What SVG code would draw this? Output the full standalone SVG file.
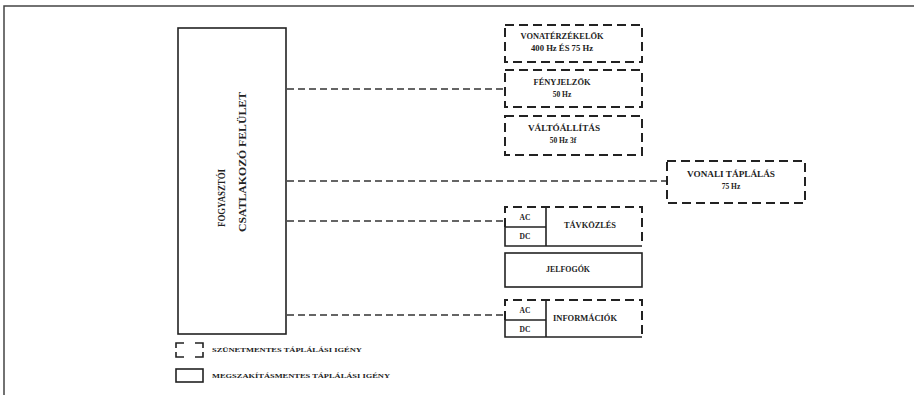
<svg xmlns="http://www.w3.org/2000/svg" width="914" height="401" viewBox="0 0 914 401">
<style>
text{font-family:"Liberation Serif","Times New Roman",serif;font-weight:bold;fill:#222;}
.t{font-size:7.5px;text-anchor:middle;}
.l{font-size:7px;}
.solid{fill:none;stroke:#222;stroke-width:1.6;}
.dash{fill:none;stroke:#222;stroke-width:2;stroke-dasharray:9 5;}
.conn{fill:none;stroke:#333;stroke-width:1.3;stroke-dasharray:7 4;}
.frame{fill:none;stroke:#444;stroke-width:1.5;}
</style>
<rect width="914" height="401" fill="#fff"/>
<path class="frame" d="M4,395 V6 H914"/>
<g id="connectors">
<path class="conn" d="M287,89 H505"/>
<path class="conn" d="M287,181 H667"/>
<path class="conn" d="M287,221 H505"/>
<path class="conn" d="M287,315 H505"/>
</g>
<g id="main">
<rect class="solid" x="178" y="28" width="108" height="306"/>
<text transform="translate(225,198) rotate(-90)" font-size="10" text-anchor="middle" textLength="58" lengthAdjust="spacingAndGlyphs">FOGYASZTÓI</text>
<text transform="translate(246,162) rotate(-90)" font-size="10" text-anchor="middle" textLength="140" lengthAdjust="spacingAndGlyphs">CSATLAKOZÓ FELÜLET</text>
</g>
<g id="vonaterzekelok">
<rect class="dash" x="505" y="25" width="137" height="37"/>
<text class="t" x="562" y="39" textLength="83" lengthAdjust="spacingAndGlyphs">VONATÉRZÉKELŐK</text>
<text class="t" x="562" y="51" textLength="62" lengthAdjust="spacingAndGlyphs">400 Hz ÉS 75 Hz</text>
</g>
<g id="fenyjelzok">
<rect class="dash" x="505" y="70" width="137" height="37"/>
<text class="t" x="562" y="85" textLength="57" lengthAdjust="spacingAndGlyphs">FÉNYJELZŐK</text>
<text class="t" x="562" y="97">50 Hz</text>
</g>
<g id="valtoallitas">
<rect class="dash" x="505" y="116" width="137" height="39"/>
<text class="t" x="564" y="131" textLength="72" lengthAdjust="spacingAndGlyphs">VÁLTÓÁLLÍTÁS</text>
<text class="t" x="563" y="143">50 Hz 3f</text>
</g>
<g id="vonali">
<rect class="dash" x="667" y="161" width="138" height="42"/>
<text class="t" x="731" y="177" textLength="88" lengthAdjust="spacingAndGlyphs">VONALI TÁPLÁLÁS</text>
<text class="t" x="731" y="189">75 Hz</text>
</g>
<g id="tavkozles">
<path class="dash" d="M505,227 V207 H642 V246"/>
<path class="solid" d="M505,227 V246 H642 M505,227 H546 M546,207 V246"/>
<text class="t" x="525" y="220">AC</text>
<text class="t" x="525" y="239">DC</text>
<text class="t" x="590" y="228" textLength="52" lengthAdjust="spacingAndGlyphs">TÁVKÖZLÉS</text>
</g>
<g id="jelfogok">
<rect class="solid" x="505" y="253" width="137" height="34"/>
<text class="t" x="568" y="272" textLength="44" lengthAdjust="spacingAndGlyphs">JELFOGÓK</text>
</g>
<g id="informaciok">
<path class="dash" d="M505,320 V300 H642 V337"/>
<path class="solid" d="M505,320 V337 H642 M505,320 H546 M546,300 V337"/>
<text class="t" x="525" y="313">AC</text>
<text class="t" x="525" y="332">DC</text>
<text class="t" x="585" y="321" textLength="64" lengthAdjust="spacingAndGlyphs">INFORMÁCIÓK</text>
</g>
<g id="legend">
<path class="solid" stroke-width="2" d="M176,348 V343 H184 M195,343 H203 V348 M203,352 V357 H195 M184,357 H176 V352"/>
<text class="l" x="212" y="352" textLength="150" lengthAdjust="spacingAndGlyphs">SZÜNETMENTES TÁPLÁLÁSI IGÉNY</text>
<rect class="solid" x="176" y="369" width="27" height="13"/>
<text class="l" x="212" y="378" textLength="178" lengthAdjust="spacingAndGlyphs">MEGSZAKÍTÁSMENTES TÁPLÁLÁSI IGÉNY</text>
</g>
</svg>
